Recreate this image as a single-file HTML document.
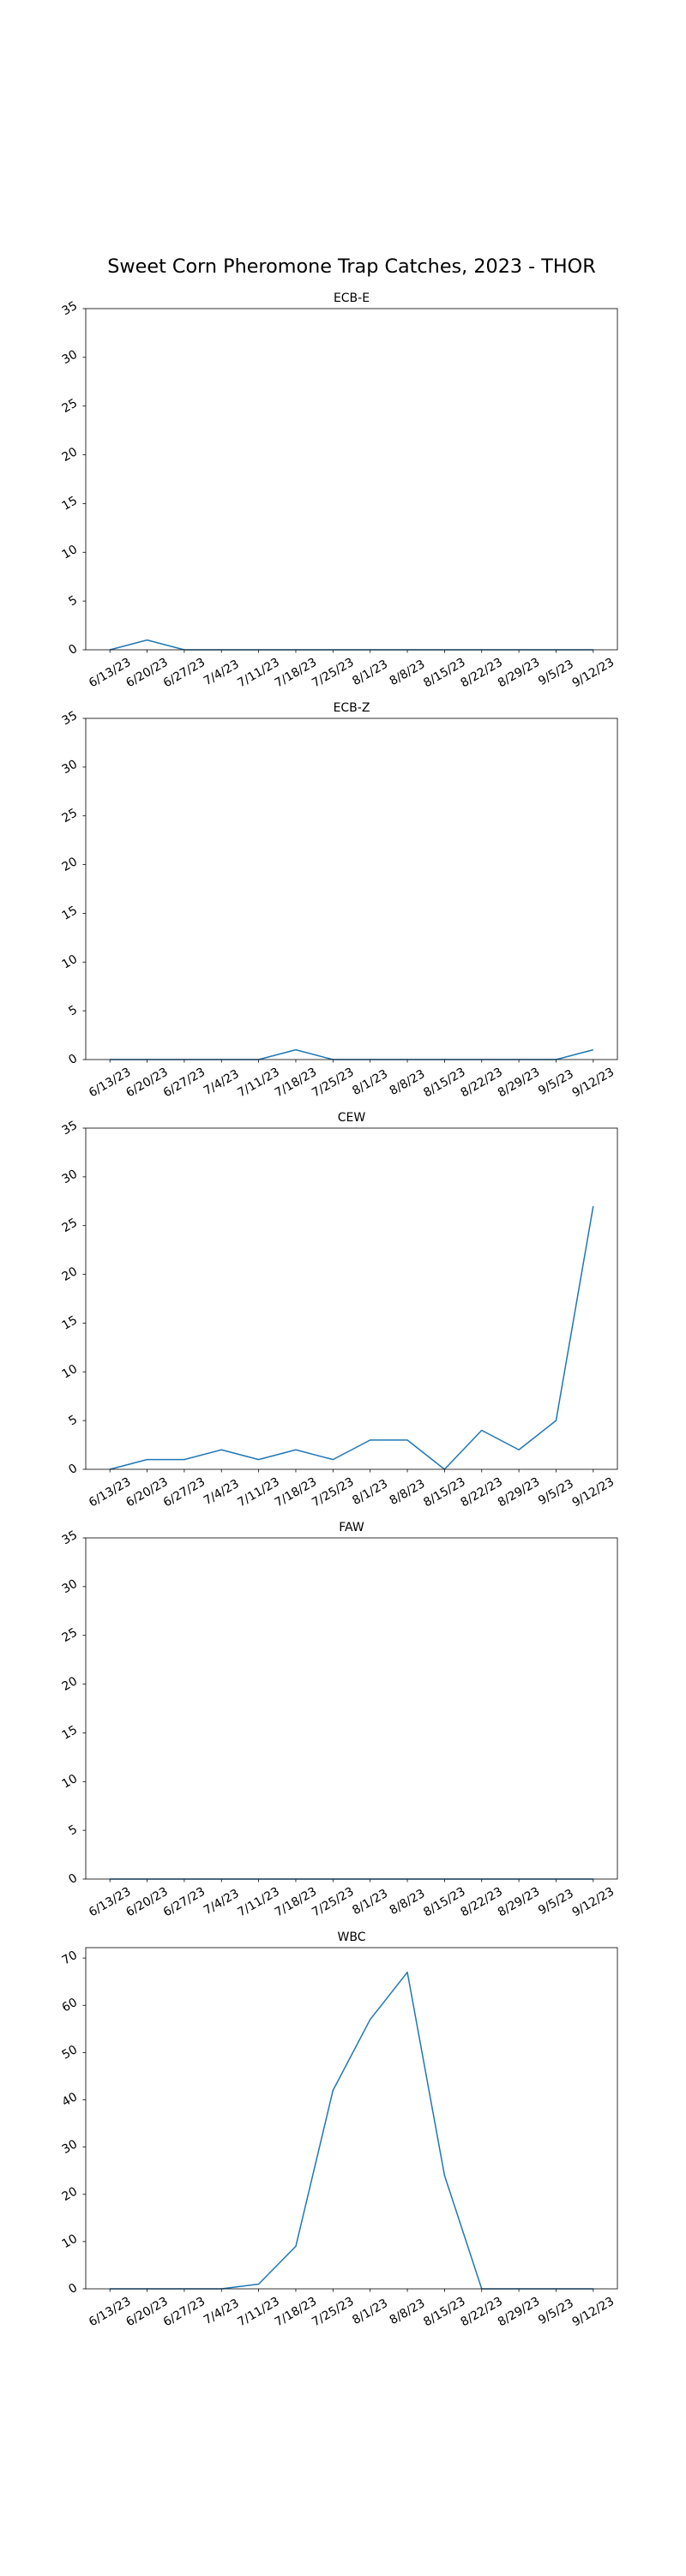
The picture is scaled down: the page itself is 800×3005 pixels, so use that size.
<!DOCTYPE html>
<html><head><meta charset="utf-8"><style>
html,body{margin:0;padding:0;background:#fff;}
svg text{font-family:"DejaVu Sans","Liberation Sans",sans-serif;fill:#000;}
</style></head><body>
<svg id="fig" width="800" height="3000" xmlns="http://www.w3.org/2000/svg">
<rect width="800" height="3000" fill="#fff"/>
<text x="410" y="318" font-size="22.3" text-anchor="middle">Sweet Corn Pheromone Trap Catches, 2023 - THOR</text>
</svg>
<script>
const dates = ["6/13/23","6/20/23","6/27/23","7/4/23","7/11/23","7/18/23","7/25/23","8/1/23","8/8/23","8/15/23","8/22/23","8/29/23","9/5/23","9/12/23"];
const panelTitles = ["ECB-E","ECB-Z","CEW","FAW","WBC"];
const ecbE = [0,1,0,0,0,0,0,0,0,0,0,0,0,0];
const ecbZ = [0,0,0,0,0,1,0,0,0,0,0,0,0,1];
const cew = [0,1,1,2,1,2,1,3,3,0,4,2,5,27];
const faw = [0,0,0,0,0,0,0,0,0,0,0,0,0,0];
const wbc = [0,0,0,0,1,9,42,57,67,24,0,0,0,0];
const yMaxes = [35,35,35,35,72.2];
const yTicksSmall = [0,5,10,15,20,25,30,35];
const yTicksWbc = [0,10,20,30,40,50,60,70];

const NS="http://www.w3.org/2000/svg";
const svg=document.getElementById('fig');
function mk(tag,attrs,parent){const e=document.createElementNS(NS,tag);for(const k in attrs)e.setAttribute(k,attrs[k]);(parent||svg).appendChild(e);return e;}
const series=[ecbE,ecbZ,cew,faw,wbc];
const L=100,R=720,H=398,tops=[360,838,1316,1794,2272];
series.forEach((vals,p)=>{
  const top=tops[p],bot=top+H,ymax=yMaxes[p];
  const n=dates.length;
  const span=(n-1)*1.1;
  const xs=i=>L+(i+(n-1)*0.05)/span*(R-L);
  const ys=v=>bot-v/ymax*H;
  const g=mk('g',{});
  
  
  const t=mk('text',{x:410,y:top-8,'font-size':14,'text-anchor':'middle'},g);
  t.textContent=panelTitles[p];
  
  
  dates.forEach((d,i)=>{
    const x=xs(i);
    const tk=mk('line',{x1:x,x2:x,y1:bot,y2:bot+3.5,stroke:'#000','stroke-width':0.8},g);
    
    
    const cy=bot+27;
    const lb=mk('text',{x:x,y:cy,'font-size':13.9,'text-anchor':'middle','dominant-baseline':'central',transform:`rotate(-30 ${x} ${cy})`},g);
    lb.textContent=d;
    
    
  });
  const yt=p===4?yTicksWbc:yTicksSmall;
  yt.forEach(v=>{
    const y=ys(v);
    const tk=mk('line',{x1:L-3.5,x2:L,y1:y,y2:y,stroke:'#000','stroke-width':0.8},g);
    
    
    const s=String(v);const w=s.length*8.85;
    const cx=L-7-(w*0.866+16*0.5)/2;
    const lb=mk('text',{x:cx,y:y,'font-size':13.9,'text-anchor':'middle','dominant-baseline':'central',transform:`rotate(-30 ${cx} ${y})`},g);
    lb.textContent=s;
    
    
  });
  const pts=vals.map((v,i)=>xs(i).toFixed(2)+','+ys(v).toFixed(2)).join(' ');
  const line=mk('polyline',{points:pts,fill:'none',stroke:'#1f77b4','stroke-width':1.5,'stroke-linejoin':'round'},g);
  
  
  const fr=mk('rect',{x:L,y:top,width:R-L,height:H,fill:'none',stroke:'#000','stroke-width':0.8},g);
  
  
});
</script>
</body></html>
